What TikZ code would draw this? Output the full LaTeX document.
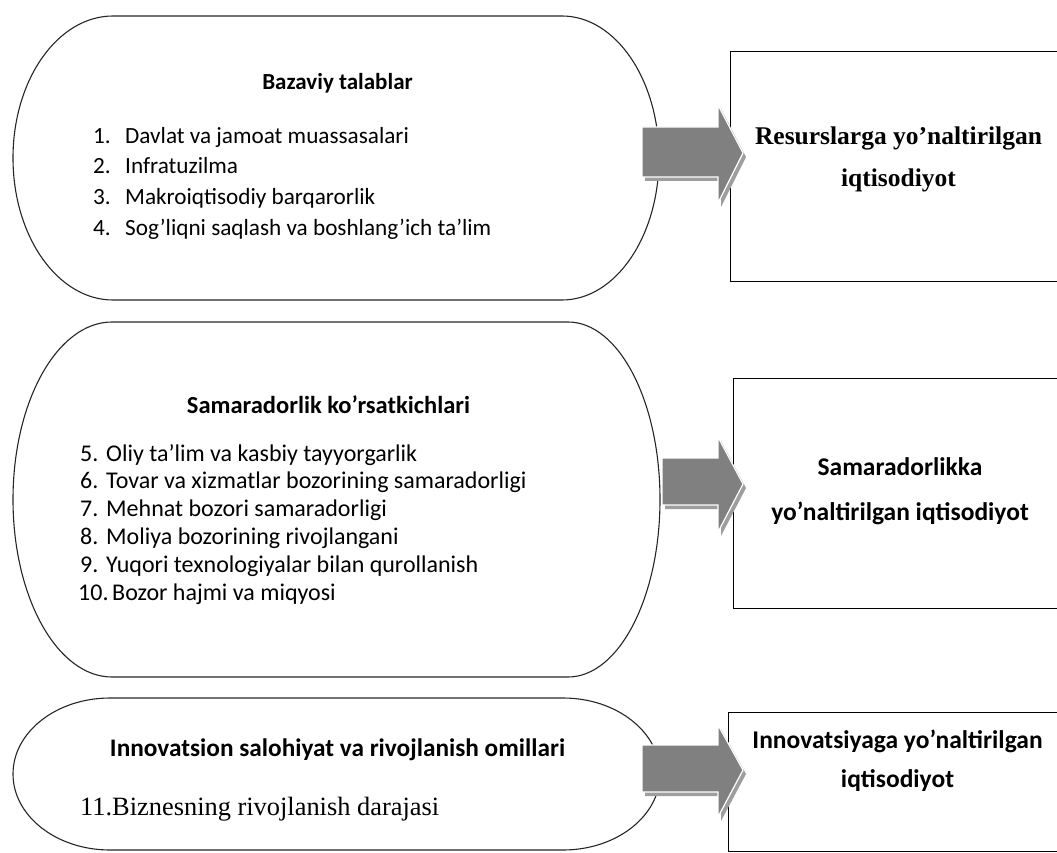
\documentclass[tikz,border=0pt]{standalone}
\usepackage{fontspec}
\setmainfont{Liberation Serif}
\newfontfamily\calfont{Carlito}
\begin{document}
\begin{tikzpicture}[x=1pt,y=-1pt,
  shapeline/.style={draw=black!85, line width=1.1pt, fill=white},
  boxline/.style={draw=black, line width=1.3pt, fill=white, inner sep=0pt, anchor=north west},
  arrowmain/.style={fill=black!50, draw=white, line width=1.2pt},
  arrowshadow/.style={fill=black!38},
  itemA/.style={font=\calfont\fontsize{23.2}{28}\selectfont, anchor=base west, inner sep=0pt},
  itemB/.style={font=\calfont\fontsize{24}{28}\selectfont, anchor=base west, inner sep=0pt},
  headA/.style={font=\calfont\bfseries\fontsize{23}{28}\selectfont, anchor=base, inner sep=0pt},
  headB/.style={font=\calfont\bfseries\fontsize{24.5}{28}\selectfont, anchor=base, inner sep=0pt},
  headC/.style={font=\calfont\bfseries\fontsize{25.3}{28}\selectfont, anchor=base, inner sep=0pt},
  serifitem/.style={font=\fontsize{26.4}{30}\selectfont, anchor=base west, inner sep=0pt},
  serifbold/.style={font=\bfseries\fontsize{25.5}{30}\selectfont, anchor=base, inner sep=0pt},
  calbold/.style={font=\calfont\bfseries\fontsize{25.5}{30}\selectfont, anchor=base, inner sep=0pt}
]
\useasboundingbox (0,0) rectangle (1057,853);
\clip (0,0) rectangle (1057,853);

% ---- rounded shapes (left) ----
\draw[shapeline] (113,16) -- (562,16) arc[start angle=-90, end angle=90, x radius=97, y radius=142]
  -- (113,300) arc[start angle=90, end angle=270, x radius=100, y radius=142] -- cycle;
\draw[shapeline] (112,322) -- (568,322) arc[start angle=-90, end angle=90, x radius=92, y radius=177.5]
  -- (112,677) arc[start angle=90, end angle=270, x radius=99, y radius=177.5] -- cycle;
\draw[shapeline] (110,698) -- (563,698) arc[start angle=-90, end angle=90, x radius=97, y radius=76]
  -- (110,850) arc[start angle=90, end angle=270, x radius=97, y radius=76] -- cycle;

% ---- boxes (right) ----
\node[boxline, minimum width=332pt, minimum height=230pt] (box1) at (730,51) {};
\node[boxline, minimum width=332pt, minimum height=230pt] (box2) at (733,378) {};
\node[boxline, minimum width=334pt, minimum height=139pt] (box3) at (728,712) {};

% ---- block arrows ----
\fill[arrowshadow] (645,131) -- (721,131) -- (721,109) -- (746,157) -- (721,207) -- (721,181) -- (645,181) -- cycle;
\filldraw[arrowmain] (642,127) -- (718,127) -- (718,105) -- (743,153) -- (718,203) -- (718,177) -- (642,177) -- cycle;

\fill[arrowshadow] (665,462) -- (721,462) -- (721,441) -- (746,488) -- (721,536) -- (721,509) -- (665,509) -- cycle;
\filldraw[arrowmain] (662,458) -- (718,458) -- (718,437) -- (743,484) -- (718,532) -- (718,505) -- (662,505) -- cycle;

\fill[arrowshadow] (645,749) -- (721,749) -- (721,729) -- (746,774) -- (721,821) -- (721,796) -- (645,796) -- cycle;
\filldraw[arrowmain] (642,745) -- (718,745) -- (718,725) -- (743,770) -- (718,817) -- (718,792) -- (642,792) -- cycle;

% ---- shape 1 text ----
\node[headA] (h1) at (337.5,90) {Bazaviy talablar};
\node[itemA] (n1) at (93,143.3) {1.};  \node[itemA] (t1) at (125,143.3) {Davlat va jamoat muassasalari};
\node[itemA] (n2) at (93,174.0) {2.};  \node[itemA] (t2) at (125,174.0) {Infratuzilma};
\node[itemA] (n3) at (93,204.7) {3.};  \node[itemA] (t3) at (125,204.7) {Makroiqtisodiy barqarorlik};
\node[itemA] (n4) at (93,235.4) {4.};  \node[itemA] (t4) at (125,235.4) {Sog’liqni saqlash va boshlang’ich ta’lim};

% ---- shape 2 text ----
\node[headB] (h2) at (328.5,413) {Samaradorlik ko’rsatkichlari};
\node[itemB] (n5) at (80,461.0) {5.};  \node[itemB] (t5) at (106,461.0) {Oliy ta’lim va kasbiy tayyorgarlik};
\node[itemB] (n6) at (80,488.8) {6.};  \node[itemB] (t6) at (106,488.8) {Tovar va xizmatlar bozorining samaradorligi};
\node[itemB] (n7) at (80,516.6) {7.};  \node[itemB] (t7) at (106,516.6) {Mehnat bozori samaradorligi};
\node[itemB] (n8) at (80,544.4) {8.};  \node[itemB] (t8) at (106,544.4) {Moliya bozorining rivojlangani};
\node[itemB] (n9) at (80,572.2) {9.};  \node[itemB] (t9) at (106,572.2) {Yuqori texnologiyalar bilan qurollanish};
\node[itemB] (n10) at (78,600.0) {10.}; \node[itemB] (t10) at (112,600.0) {Bozor hajmi va miqyosi};

% ---- shape 3 text ----
\node[headC] (h3) at (337.5,756) {Innovatsion salohiyat va rivojlanish omillari};
\node[serifitem] (t11) at (80,815) {11.Biznesning rivojlanish darajasi};

% ---- box texts ----
\node[serifbold] (r1a) at (898.5,145) {Resurslarga yo’naltirilgan};
\node[serifbold] (r1b) at (898.5,186) {iqtisodiyot};
\node[calbold] (r2a) at (900,475) {Samaradorlikka};
\node[calbold] (r2b) at (900,520) {yo’naltirilgan iqtisodiyot};
\node[calbold] (r3a) at (897.5,748) {Innovatsiyaga yo’naltirilgan};
\node[calbold] (r3b) at (897.5,787) {iqtisodiyot};
\end{tikzpicture}
\end{document}
